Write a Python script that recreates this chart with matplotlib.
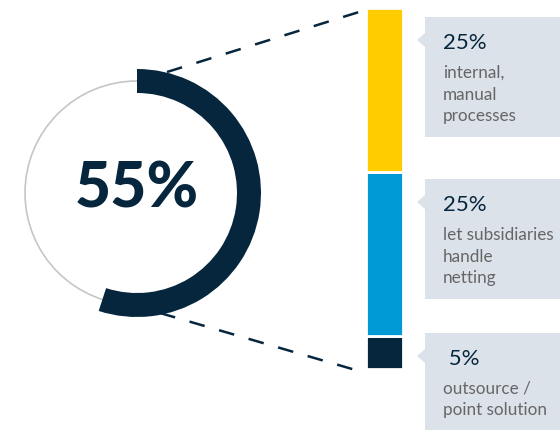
import matplotlib.pyplot as plt
from matplotlib.patches import Circle, Polygon

# data
share_total = 55
share_rest = 100 - share_total
seg_values = [5, 25, 25]          # bottom -> top
seg_colors = ['#06263d', '#009bd6', '#ffcc00']
pct_labels = ['25%', '25%', ' 5%']  # top -> bottom
desc_labels = [['internal,', 'manual', 'processes'],
               ['let subsidiaries', 'handle', 'netting'],
               ['outsource /', 'point solution']]

navy = '#06263d'
W, H = 560, 430

fig = plt.figure(figsize=(W / 100, H / 100), dpi=100)
ax = fig.add_axes([0, 0, 1, 1])

# ring (pixel coords, y up)
cx, cy = 137, H - 193
ax.add_patch(Circle((cx, cy), 112, fill=False, ec='#c6c6c6', lw=1.2, zorder=1))
ax.pie([share_total, share_rest], colors=[navy, 'none'], radius=124,
       center=(cx, cy), startangle=90, counterclock=False,
       wedgeprops=dict(width=24, linewidth=0, zorder=3))
ax.text(cx, cy + 4, f'{share_total}%', ha='center', va='center',
        fontsize=45, fontweight=900, color=navy, family='Lato', zorder=4)

# dashed connectors
ax.plot([167, 359], [H - 72, H - 12], color=navy, lw=1.8,
        dashes=(6.3, 6), zorder=2)
ax.plot([160, 359], [H - 313, H - 371], color=navy, lw=1.8,
        dashes=(6.3, 6), zorder=2)

# callout boxes
box_tops = [17, 179, 333]
for top, pct, desc in zip(box_tops, pct_labels, desc_labels):
    pts = [(425, top), (W + 5, top), (W + 5, top + 120), (425, top + 120),
           (425, top + 30), (417, top + 23), (425, top + 16)]
    ax.add_patch(Polygon([(x, H - y) for x, y in pts], closed=True,
                         fc='#dce2ea', ec='none', zorder=1))
    ax.text(443, H - (top + 32), pct, ha='left', va='baseline',
            fontsize=16, color=navy, family='Lato')
    for i, line in enumerate(desc):
        ax.text(443, H - (top + 61 + 21.5 * i), line, ha='left', va='baseline',
                fontsize=12.3, color='#666666', family='Lato')

ax.set_xlim(0, W)
ax.set_ylim(0, H)
ax.set_aspect('auto')
ax.axis('off')

# stacked bar
bax = fig.add_axes([366 / W, (H - 369) / H, 37 / W, 361 / H])
bottom = 0
for v, c in zip(seg_values, seg_colors):
    bax.bar(0, v, bottom=bottom, width=1, color=c, edgecolor='white', linewidth=2)
    bottom += v
bax.set_xlim(-0.5, 0.5)
bax.set_ylim(0, share_total)
bax.axis('off')

fig.savefig('out.png', dpi=100)
